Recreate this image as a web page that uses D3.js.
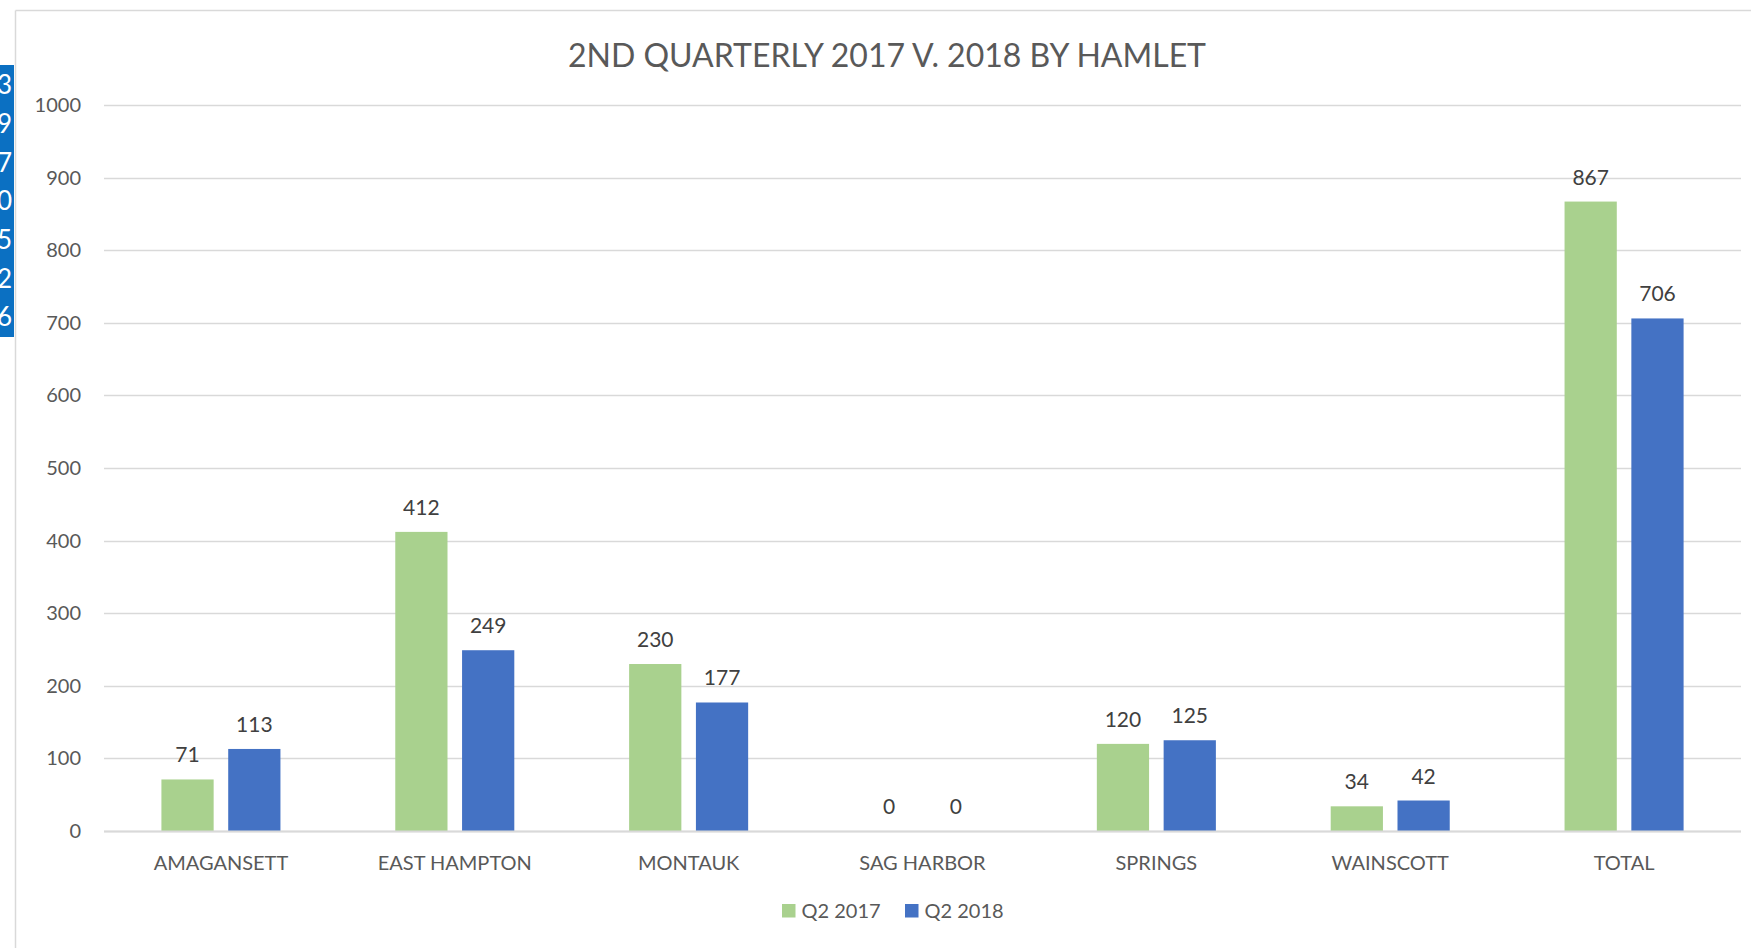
<!DOCTYPE html>
<html>
<head>
<meta charset="utf-8">
<script src="https://cdn.jsdelivr.net/npm/d3@7"></script>
<style>
  html, body { margin: 0; padding: 0; background: #fff; }
  svg { display: block; font-family: Lato, "Noto Sans", sans-serif; }
</style>
</head>
<body>
<svg id="chart" width="1751" height="948"></svg>
<script>
// ---- data ----
const categories = ["AMAGANSETT", "EAST HAMPTON", "MONTAUK", "SAG HARBOR", "SPRINGS", "WAINSCOTT", "TOTAL"];
const seriesNames = ["Q2 2017", "Q2 2018"];
const q2_2017 = [71, 412, 230, 0, 120, 34, 867];
const q2_2018 = [113, 249, 177, 0, 125, 42, 706];
const yTicks = [0, 100, 200, 300, 400, 500, 600, 700, 800, 900, 1000];
const title = "2ND QUARTERLY 2017 V. 2018 BY HAMLET";
const sideDigits = ["3", "9", "7", "0", "5", "2", "6"];

const colors = { "Q2 2017": "#A9D18E", "Q2 2018": "#4472C4" };
const values = { "Q2 2017": q2_2017, "Q2 2018": q2_2018 };

const svg = d3.select("#chart");

// chart frame
svg.append("line").attr("x1", 15.5).attr("x2", 15.5).attr("y1", 10.5).attr("y2", 948)
  .attr("stroke", "#D9D9D9").attr("stroke-width", 1.5);
svg.append("line").attr("x1", 15.5).attr("x2", 1751).attr("y1", 10.5).attr("y2", 10.5)
  .attr("stroke", "#D9D9D9").attr("stroke-width", 1.5);

// blue side strip with clipped digits (partially visible, as in the reference)
svg.append("clipPath").attr("id", "sideClip")
  .append("rect").attr("x", 0).attr("y", 65).attr("width", 14).attr("height", 272);
svg.append("rect").attr("x", 0).attr("y", 65).attr("width", 14).attr("height", 272).attr("fill", "#0B70C2");
const side = svg.append("g").attr("clip-path", "url(#sideClip)");
const sideScale = d3.scalePoint().domain(d3.range(sideDigits.length)).range([85, 317]);
side.selectAll("text").data(sideDigits).join("text")
  .attr("x", 12).attr("y", (d, i) => sideScale(i)).attr("dy", "0.36em")
  .attr("text-anchor", "end").attr("fill", "#fff").attr("font-size", 26)
  .text(d => d);

// plot area
const plot = { left: 104, right: 1741, top: 105, bottom: 831 };

const x0 = d3.scaleBand().domain(categories).range([plot.left, plot.right]).padding(0);
const groupW = x0.bandwidth() * 0.509;
const x1 = d3.scaleBand().domain(seriesNames).range([0, groupW]).paddingInner(0.218).paddingOuter(0);
const y = d3.scaleLinear().domain([0, 1000]).range([plot.bottom, plot.top]);

// gridlines
svg.append("g").selectAll("line").data(yTicks).join("line")
  .attr("x1", plot.left).attr("x2", plot.right)
  .attr("y1", d => Math.round(y(d)) + 0.5).attr("y2", d => Math.round(y(d)) + 0.5)
  .attr("stroke", "#D9D9D9").attr("stroke-width", 1.5);

// y axis labels
const yAxis = d3.axisLeft(y).tickValues(yTicks).tickFormat(d3.format("d")).tickSize(0).tickPadding(0);
const gy = svg.append("g").attr("transform", `translate(81,0)`).call(yAxis);
gy.select(".domain").remove();
gy.selectAll("text").attr("font-size", 20).attr("fill", "#595959")
  .attr("font-family", "Lato, 'Noto Sans', sans-serif");

// bars
const groups = svg.append("g").selectAll("g").data(categories).join("g")
  .attr("transform", d => `translate(${x0(d) + (x0.bandwidth() - groupW) / 2},0)`);

groups.selectAll("rect").data((c, i) => seriesNames.map(s => ({ s, v: values[s][i] }))).join("rect")
  .attr("x", d => x1(d.s)).attr("width", x1.bandwidth())
  .attr("y", d => y(d.v)).attr("height", d => y(0) - y(d.v))
  .attr("fill", d => colors[d.s]);

groups.selectAll("text").data((c, i) => seriesNames.map(s => ({ s, v: values[s][i] }))).join("text")
  .attr("x", d => x1(d.s) + x1.bandwidth() / 2)
  .attr("y", d => y(d.v) - 17)
  .attr("text-anchor", "middle").attr("font-size", 21).attr("fill", "#404040")
  .text(d => d.v);

// baseline axis
svg.append("line").attr("x1", plot.left).attr("x2", plot.right)
  .attr("y1", Math.round(y(0)) + 0.5).attr("y2", Math.round(y(0)) + 0.5)
  .attr("stroke", "#D9D9D9").attr("stroke-width", 2);

// x axis labels
const xAxis = d3.axisBottom(x0).tickSize(0).tickPadding(0);
const gx = svg.append("g").call(xAxis);
gx.select(".domain").remove();
gx.selectAll("text").attr("y", 870).attr("dy", null).attr("font-size", 20).attr("fill", "#595959")
  .attr("font-family", "Lato, 'Noto Sans', sans-serif");

// title
svg.append("text").attr("x", 887).attr("y", 67).attr("text-anchor", "middle")
  .attr("font-size", 32).attr("fill", "#595959").text(title);

// legend
const legend = svg.append("g");
const legendX = d3.scaleOrdinal().domain(seriesNames).range([782, 905]);
seriesNames.forEach(s => {
  const g = legend.append("g").attr("transform", `translate(${legendX(s)},0)`);
  g.append("rect").attr("x", 0).attr("y", 904).attr("width", 13.5).attr("height", 13.5).attr("fill", colors[s]);
  g.append("text").attr("x", 19.5).attr("y", 918).attr("font-size", 20).attr("fill", "#595959").text(s);
});
</script>
</body>
</html>
